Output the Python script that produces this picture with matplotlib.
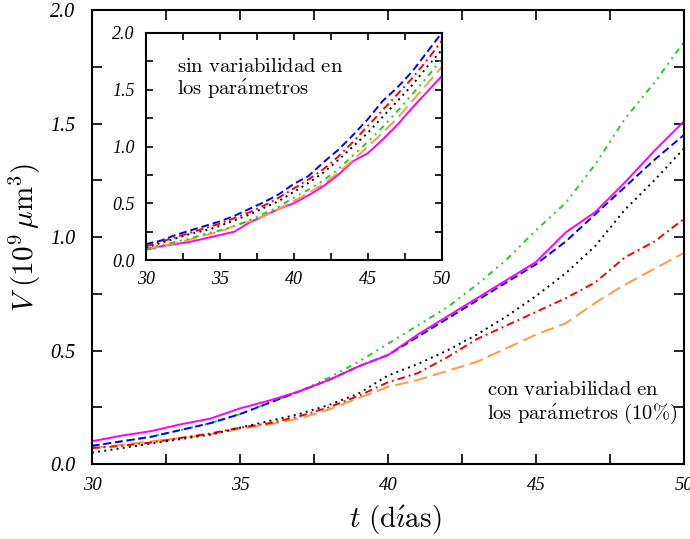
import matplotlib
matplotlib.use("Agg")
import matplotlib.pyplot as plt
from matplotlib.font_manager import FontProperties
from matplotlib.ticker import MultipleLocator, FormatStrFormatter

plt.rcParams["mathtext.fontset"] = "cm"

days = list(range(30, 51))

# volumes with 10% parameter variability (main panel)
var_magenta = [0.10, 0.125, 0.145, 0.175, 0.20, 0.245, 0.28, 0.32, 0.37, 0.43, 0.48,
               0.57, 0.65, 0.73, 0.81, 0.89, 1.02, 1.11, 1.24, 1.38, 1.51]
var_blue = [0.08, 0.10, 0.12, 0.15, 0.18, 0.22, 0.27, 0.32, 0.37, 0.43, 0.48,
            0.56, 0.64, 0.72, 0.80, 0.88, 0.98, 1.10, 1.22, 1.34, 1.45]
var_green = [0.08, 0.10, 0.12, 0.15, 0.18, 0.22, 0.27, 0.32, 0.38, 0.45, 0.53,
             0.61, 0.69, 0.79, 0.90, 1.03, 1.15, 1.32, 1.52, 1.68, 1.86]
var_black = [0.05, 0.07, 0.09, 0.11, 0.13, 0.16, 0.19, 0.22, 0.26, 0.31, 0.39,
             0.44, 0.50, 0.57, 0.65, 0.74, 0.84, 0.96, 1.12, 1.25, 1.39]
var_red = [0.07, 0.08, 0.095, 0.115, 0.135, 0.16, 0.18, 0.21, 0.25, 0.30, 0.36,
           0.40, 0.47, 0.55, 0.61, 0.67, 0.73, 0.80, 0.91, 0.98, 1.08]
var_orange = [0.07, 0.085, 0.10, 0.115, 0.13, 0.155, 0.175, 0.20, 0.24, 0.29, 0.34,
              0.37, 0.41, 0.45, 0.51, 0.57, 0.62, 0.71, 0.79, 0.86, 0.93]

# volumes without parameter variability (inset)
fix_magenta = [0.09, 0.12, 0.14, 0.16, 0.19, 0.22, 0.25, 0.33, 0.39, 0.45, 0.50,
               0.57, 0.65, 0.75, 0.87, 0.94, 1.06, 1.19, 1.34, 1.48, 1.62]
fix_blue = [0.14, 0.17, 0.22, 0.26, 0.30, 0.34, 0.39, 0.45, 0.51, 0.58, 0.67,
            0.74, 0.86, 0.97, 1.10, 1.24, 1.40, 1.52, 1.66, 1.83, 2.0]
fix_red = [0.12, 0.16, 0.20, 0.24, 0.28, 0.32, 0.37, 0.42, 0.48, 0.55, 0.63,
           0.71, 0.80, 0.91, 1.04, 1.18, 1.32, 1.46, 1.60, 1.76, 1.93]
fix_black = [0.11, 0.15, 0.19, 0.23, 0.26, 0.30, 0.35, 0.40, 0.46, 0.52, 0.60,
             0.68, 0.77, 0.88, 1.00, 1.12, 1.26, 1.40, 1.54, 1.70, 1.85]
fix_green = [0.10, 0.13, 0.16, 0.19, 0.23, 0.26, 0.30, 0.35, 0.41, 0.47, 0.55,
             0.62, 0.70, 0.80, 0.92, 1.04, 1.17, 1.31, 1.46, 1.61, 1.77]
fix_orange = [0.10, 0.12, 0.15, 0.18, 0.22, 0.25, 0.30, 0.34, 0.39, 0.45, 0.52,
              0.59, 0.67, 0.77, 0.88, 1.00, 1.12, 1.25, 1.40, 1.55, 1.70]

styles = {
    "black": dict(color="black", dashes=(1, 2.2)),
    "orange": dict(color="#ff9944", dashes=(7, 3)),
    "red": dict(color="red", dashes=(4, 2, 1, 2)),
    "green": dict(color="#22cc22", dashes=(3, 2.5, 1, 2.5, 1, 2.5)),
    "blue": dict(color="blue", dashes=(4, 2)),
    "magenta": dict(color="#ff00ff", linestyle="-"),
}


def style_axes(ax, xsize, ysize, ticklen, xpad, ypad):
    ax.set_xlim(30, 50)
    ax.set_ylim(0, 2.0)
    ax.xaxis.set_major_locator(MultipleLocator(5))
    ax.xaxis.set_minor_locator(MultipleLocator(2.5))
    ax.yaxis.set_major_locator(MultipleLocator(0.5))
    ax.yaxis.set_minor_locator(MultipleLocator(0.25))
    ax.yaxis.set_major_formatter(FormatStrFormatter("%.1f"))
    ax.tick_params(which="both", direction="in", top=True, right=True,
                   length=ticklen, width=1.2)
    ax.tick_params(axis="x", which="major", pad=xpad)
    ax.tick_params(axis="y", which="major", pad=ypad)
    for lab in ax.get_xticklabels():
        lab.set_fontproperties(FontProperties(family="Liberation Serif",
                                              style="italic", size=xsize))
    for lab in ax.get_yticklabels():
        lab.set_fontproperties(FontProperties(family="Liberation Serif",
                                              style="italic", size=ysize))
    for sp in ax.spines.values():
        sp.set_linewidth(1.5)


def draw(ax, series):
    for key, vals in series:
        ax.plot(days, vals, linewidth=1.4, **styles[key])


fig = plt.figure(figsize=(6.9, 5.39), dpi=100)
ax = fig.add_axes([0.1333, 0.1391, 0.858, 0.8423])
draw(ax, [("orange", var_orange), ("red", var_red), ("black", var_black),
          ("green", var_green), ("blue", var_blue), ("magenta", var_magenta)])
style_axes(ax, 13.5, 14.5, 7, 9, 12)
ax.set_xlabel(r"$t\ (\mathrm{d\acute{\imath}as})$", fontsize=21)
ax.xaxis.set_label_coords(0.513, -0.088)
ax.set_ylabel(r"$V\ (10^9\,\mu\mathrm{m}^3)$", fontsize=21, labelpad=5)
ax.text(0.667, 0.135, r"$\mathrm{con\ variabilidad\ en}$" + "\n"
        + r"$\mathrm{los\ par\'{a}metros\ (10\%)}$",
        transform=ax.transAxes, fontsize=14.8, ha="left", va="center",
        linespacing=1.15)

ins = fig.add_axes([0.2112, 0.5176, 0.4290, 0.4212])
draw(ins, [("magenta", fix_magenta), ("orange", fix_orange), ("green", fix_green),
           ("black", fix_black), ("red", fix_red), ("blue", fix_blue)])
style_axes(ins, 13, 13, 5, 8, 8)
ins.text(0.105, 0.80, r"$\mathrm{sin\ variabilidad\ en}$" + "\n"
         + r"$\mathrm{los\ par\'{a}metros}$",
         transform=ins.transAxes, fontsize=14.8, ha="left", va="center",
         linespacing=1.1)

fig.savefig("out.png", dpi=100)
